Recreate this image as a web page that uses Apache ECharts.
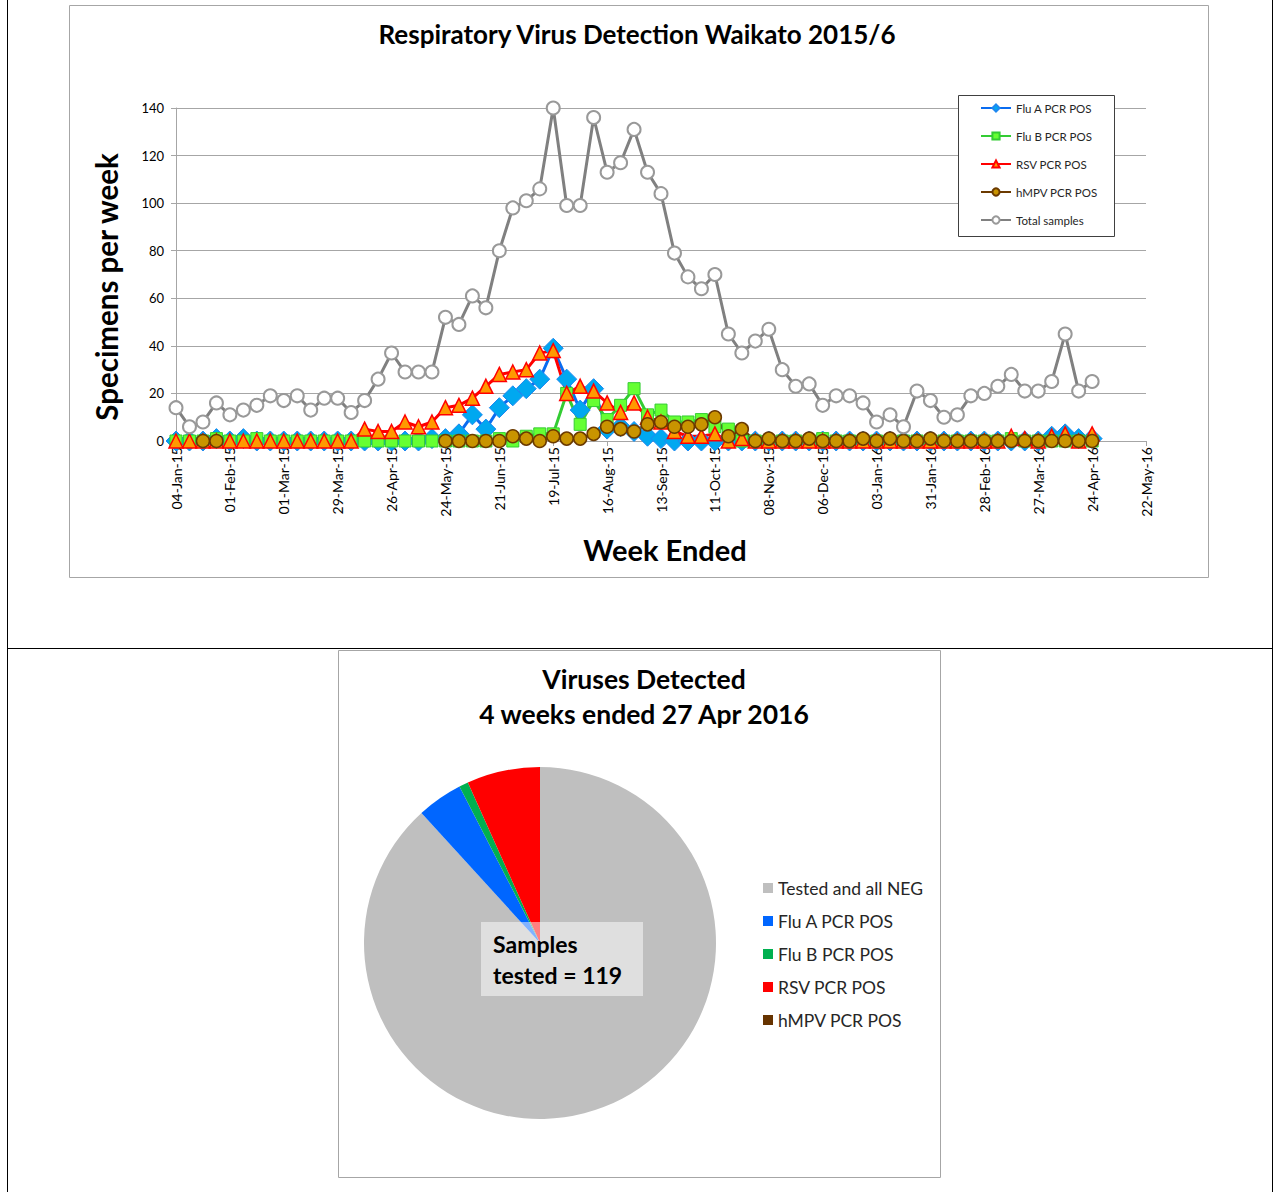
<!DOCTYPE html>
<html>
<head>
<meta charset="utf-8">
<script src="https://cdn.jsdelivr.net/npm/echarts@6/dist/echarts.min.js"></script>
<style>
  html, body { margin: 0; padding: 0; background: #fff; }
  #wrap { position: relative; width: 1274px; height: 1192px; overflow: hidden; }
  #c1 { position: absolute; left: 0; top: 0; width: 1274px; height: 648px; }
  #c2 { position: absolute; left: 0; top: 648px; width: 1274px; height: 544px; }
  .ln { position: absolute; background: #000; }
</style>
</head>
<body>
<div id="wrap">
  <div id="c1"></div>
  <div id="c2"></div>
  <div class="ln" style="left:7px;top:0;width:1px;height:1192px;"></div>
  <div class="ln" style="left:1272px;top:0;width:1px;height:1192px;"></div>
  <div class="ln" style="left:7px;top:648px;width:1266px;height:1px;"></div>
</div>
<script>
// ---- Data ----
const tickLabels = ['04-Jan-15','01-Feb-15','01-Mar-15','29-Mar-15','26-Apr-15','24-May-15','21-Jun-15','19-Jul-15','16-Aug-15','13-Sep-15','11-Oct-15','08-Nov-15','06-Dec-15','03-Jan-16','31-Jan-16','28-Feb-16','27-Mar-16','24-Apr-16','22-May-16'];

const fluA = [0,0,0,1,0,1,0,0,0,0, 0,0,0,0,0,0,0,0,0,1,
              1,3,11,5,14,19,22,26,39,26,
              13,22,5,6,4,2,1,0,0,0,
              0,0,0,0,0,0,0,0,0,0,
              0,0,0,0,0,0,0,0,0,0,
              0,0,0,0,0,2,3,1,1];
const fluB = [0,0,0,1,0,0,1,0,0,0, 0,0,0,0,0,0,0,0,0,0,
              0,0,0,0,1,0,2,3,3,20,
              7,17,9,15,22,11,13,8,8,9,
              6,5,0,0,0,0,0,0,1,0,
              0,0,0,0,0,0,0,0,0,0,
              0,0,1,0,0,0,0,0,0];
const rsv  = [0,0,0,0,0,0,0,0,0,0, 0,0,0,0,5,4,4,8,6,8,
              14,15,18,23,28,29,30,37,38,20,
              23,21,16,12,16,10,8,4,2,2,
              3,0,1,0,0,0,0,0,0,0,
              0,0,0,0,0,0,0,0,0,0,
              0,0,2,1,0,2,3,0,3];
const hmpv = [null,null,0,0,null,null,null,null,null,null, null,null,null,null,null,null,null,null,null,null,
              0,0,0,0,0,2,1,0,2,1,
              1,3,6,5,4,7,8,6,6,7,
              10,2,5,0,1,0,0,1,0,0,
              0,1,0,1,0,0,1,0,0,0,
              0,0,0,0,0,0,0,0,0];
const total = [14,6,8,16,11,13,15,19,17,19, 13,18,18,12,17,26,37,29,29,29,
               52,49,61,56,80,98,101,106,140,99,
               99,136,113,117,131,113,104,79,69,64,
               70,45,37,42,47,30,23,24,15,19,
               19,16,8,11,6,21,17,10,11,19,
               20,23,28,21,21,25,45,21,25];

const pieNames  = ['Tested and all NEG','Flu A PCR POS','Flu B PCR POS','RSV PCR POS','hMPV PCR POS'];
const pieValues = [105, 5, 1, 8, 0];
const pieColors = ['#BFBFBF','#0066FF','#00B050','#FF0000','#663300'];

// ---- Helpers ----
const FONT = 'Lato, "Open Sans", sans-serif';
function pairs(arr) { return arr.map((v, i) => [i, v]); }

// ---- Line chart ----
const c1 = echarts.init(document.getElementById('c1'), null, { renderer: 'svg' });
c1.setOption({
  animation: false,
  textStyle: { fontFamily: FONT },
  title: {
    text: 'Respiratory Virus Detection Waikato 2015/6',
    left: 'center', top: 16,
    textStyle: { fontFamily: FONT, fontSize: 26, fontWeight: 'bold', color: '#000' }
  },
  grid: { left: 176, right: 128, top: 108, bottom: 207 },
  legend: {
    orient: 'vertical', left: 980, top: 102, padding: 0, z: 10,
    itemWidth: 30, itemHeight: 9, itemGap: 16,
    textStyle: { fontFamily: FONT, fontSize: 11.5, color: '#262626' },
    data: ['Flu A PCR POS','Flu B PCR POS','RSV PCR POS','hMPV PCR POS','Total samples']
  },
  xAxis: {
    type: 'value', min: 0, max: 72, interval: 4,
    name: 'Week Ended', nameLocation: 'middle', nameGap: 94,
    nameTextStyle: { fontFamily: FONT, fontSize: 29, fontWeight: 'bold', color: '#000', padding: [0, 0, 0, 8] },
    axisLine: { lineStyle: { color: '#A6A6A6' } },
    axisTick: { show: true, length: 5, lineStyle: { color: '#A6A6A6' } },
    splitLine: { show: false },
    axisLabel: {
      rotate: 90, margin: 6, fontSize: 14, color: '#000', fontFamily: FONT,
      formatter: v => tickLabels[Math.round(v / 4)] || ''
    }
  },
  yAxis: {
    type: 'value', min: 0, max: 140, interval: 20,
    name: 'Specimens per week', nameLocation: 'middle', nameGap: 55, nameRotate: 90,
    nameTextStyle: { fontFamily: FONT, fontSize: 29.5, fontWeight: 'bold', color: '#000', padding: [0, 25, 0, 0] },
    axisLine: { show: true, lineStyle: { color: '#A6A6A6' } },
    axisTick: { show: true, length: 5, lineStyle: { color: '#A6A6A6' } },
    splitLine: { lineStyle: { color: '#A6A6A6' } },
    axisLabel: { margin: 12, fontSize: 13, color: '#000', fontFamily: FONT }
  },
  series: [
    { name: 'Flu A PCR POS', type: 'line', data: pairs(fluA), symbol: 'diamond', symbolSize: 20,
      lineStyle: { color: '#0A6CF0', width: 3 },
      itemStyle: { color: '#00A8F0', borderColor: '#1E88F0', borderWidth: 1 }, silent: true },
    { name: 'Flu B PCR POS', type: 'line', data: pairs(fluB), symbol: 'rect', symbolSize: 12,
      lineStyle: { color: '#33CC33', width: 3 },
      itemStyle: { color: '#66FF33', borderColor: '#33CC33', borderWidth: 1 }, silent: true },
    { name: 'RSV PCR POS', type: 'line', data: pairs(rsv), symbol: 'triangle', symbolSize: 14,
      lineStyle: { color: '#FF0000', width: 3 },
      itemStyle: { color: '#FF9900', borderColor: '#FF0000', borderWidth: 1.5 }, silent: true },
    { name: 'hMPV PCR POS', type: 'line', data: pairs(hmpv), symbol: 'circle', symbolSize: 13,
      connectNulls: false,
      lineStyle: { color: '#6B3A00', width: 3 },
      itemStyle: { color: '#C99400', borderColor: '#6B3A00', borderWidth: 1.5 }, silent: true },
    { name: 'Total samples', type: 'line', data: pairs(total), symbol: 'emptyCircle', symbolSize: 13,
      lineStyle: { color: '#808080', width: 3 },
      itemStyle: { color: '#999999', borderColor: '#999999', borderWidth: 2 }, silent: true }
  ],
  graphic: [
    { type: 'rect', shape: { x: 69.5, y: 5.5, width: 1139, height: 572 },
      style: { fill: 'none', stroke: '#A6A6A6', lineWidth: 1 }, silent: true, z: -1 },
    { type: 'rect', shape: { x: 958.5, y: 95.5, width: 156, height: 141 },
      style: { fill: '#fff', stroke: '#404040', lineWidth: 1 }, silent: true, z: 3 }
  ]
});

// ---- Pie chart ----
const c2 = echarts.init(document.getElementById('c2'), null, { renderer: 'svg' });
c2.setOption({
  animation: false,
  textStyle: { fontFamily: FONT },
  title: {
    text: 'Viruses Detected\n4 weeks ended 27 Apr 2016',
    left: 639, top: 8, textAlign: 'center',
    textStyle: { fontFamily: FONT, fontSize: 26.5, fontWeight: 'bold', color: '#000', lineHeight: 35 }
  },
  legend: {
    orient: 'vertical', left: 763, top: 231, padding: 0,
    itemWidth: 10, itemHeight: 10, itemGap: 15, icon: 'rect',
    textStyle: { fontFamily: FONT, fontSize: 17.5, color: '#262626' },
    data: pieNames
  },
  color: pieColors,
  series: [{
    type: 'pie', center: [540, 295], radius: 176, startAngle: 90, clockwise: true,
    label: { show: false }, labelLine: { show: false }, silent: true,
    itemStyle: { borderWidth: 0 },
    data: pieNames.map((n, i) => ({ name: n, value: pieValues[i] }))
  }],
  graphic: [
    { type: 'rect', shape: { x: 338.5, y: 2.5, width: 602, height: 527 },
      style: { fill: 'none', stroke: '#A6A6A6', lineWidth: 1 }, silent: true, z: -1 },
    { type: 'rect', shape: { x: 481, y: 274, width: 162, height: 74 },
      style: { fill: 'rgba(255,255,255,0.5)' }, silent: true, z: 100 },
    { type: 'text', x: 493, y: 296, z: 101, silent: true,
      style: { text: 'Samples', font: 'bold 23px ' + FONT, fill: '#000', verticalAlign: 'middle' } },
    { type: 'text', x: 493, y: 327, z: 101, silent: true,
      style: { text: 'tested = 119', font: 'bold 23px ' + FONT, fill: '#000', verticalAlign: 'middle' } }
  ]
});
</script>
</body>
</html>
